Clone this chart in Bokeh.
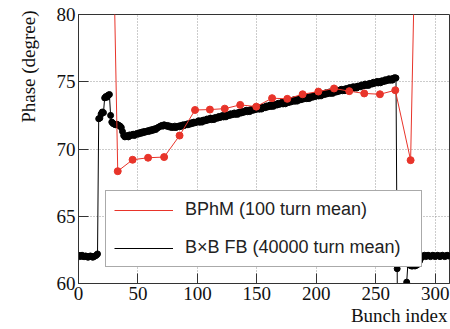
from bokeh.plotting import figure
from bokeh.models import (Range1d, FixedTicker, Legend, LegendItem, Title)
from bokeh.embed import file_html
from bokeh.resources import INLINE

# ---------------- data ----------------
# B x B FB (40000 turn mean): one value per bunch index 0..312
bbfb_lead = [62.10, 62.00, 62.05, 62.10, 62.00, 62.00, 62.05, 62.00, 61.95, 62.00,
             62.05, 62.00, 61.95, 62.00, 62.05, 62.10, 62.20]
bbfb_head = [72.25, 72.30, 72.60, 72.75, 72.70, 73.80, 73.90, 73.85, 74.00, 74.05,
             72.50, 72.00, 71.90, 71.85, 71.80, 71.85, 71.80, 71.75, 71.70, 71.60,
             71.30, 71.00, 70.90]
bbfb_early = [70.95, 71.00, 70.90, 71.05, 71.00, 71.05, 71.10, 71.00, 71.10, 71.15,
              71.10, 71.20, 71.15, 71.25, 71.20, 71.30, 71.25, 71.30, 71.35, 71.30,
              71.40, 71.35, 71.45, 71.40, 71.50, 71.45, 71.55, 71.60, 71.65, 71.70,
              71.75, 71.70, 71.80, 71.75, 71.70, 71.75, 71.65, 71.70, 71.60, 71.65,
              71.60, 71.70, 71.60, 71.65, 71.70, 71.65, 71.75, 71.70, 71.80, 71.75,
              71.80, 71.85, 71.80, 71.90, 71.85, 71.95, 71.90, 72.00, 71.95, 72.00]
bbfb_train = [72.00, 72.10, 71.99, 72.09, 72.00, 72.15, 72.12, 72.10, 72.23, 72.15,
              72.20, 72.30, 72.18, 72.28, 72.19, 72.34, 72.31, 72.29, 72.42, 72.34,
              72.39, 72.49, 72.38, 72.48, 72.39, 72.54, 72.51, 72.49, 72.62, 72.54,
              72.59, 72.68, 72.57, 72.67, 72.58, 72.73, 72.70, 72.68, 72.81, 72.73,
              72.78, 72.88, 72.77, 72.87, 72.78, 72.93, 72.90, 72.88, 73.01, 72.93,
              72.98, 73.08, 72.96, 73.06, 72.97, 73.12, 73.09, 73.07, 73.20, 73.12,
              73.17, 73.27, 73.16, 73.26, 73.17, 73.32, 73.29, 73.27, 73.40, 73.32,
              73.37, 73.47, 73.35, 73.45, 73.36, 73.51, 73.48, 73.46, 73.59, 73.51,
              73.56, 73.66, 73.55, 73.65, 73.56, 73.71, 73.68, 73.66, 73.79, 73.71,
              73.76, 73.85, 73.74, 73.84, 73.75, 73.90, 73.87, 73.85, 73.98, 73.90,
              73.95, 74.05, 73.94, 74.04, 73.95, 74.10, 74.07, 74.05, 74.18, 74.10,
              74.15, 74.24, 74.13, 74.23, 74.14, 74.29, 74.26, 74.24, 74.37, 74.29,
              74.34, 74.44, 74.33, 74.43, 74.34, 74.49, 74.46, 74.44, 74.57, 74.49,
              74.54, 74.63, 74.52, 74.62, 74.53, 74.68, 74.65, 74.63, 74.76, 74.68,
              74.73, 74.83, 74.72, 74.82, 74.73, 74.88, 74.85, 74.83, 74.96, 74.88,
              74.93, 75.02, 74.91, 75.01, 74.92, 75.07, 75.04, 75.02, 75.15, 75.07,
              75.12, 75.22, 75.11, 75.21, 75.12, 75.27, 75.30, 75.28]
bbfb_tail = [61.10, 45.00, 45.00, 45.00, 45.00, 45.00, 45.00, 45.00, 60.10,
             61.45, 61.40, 61.35, 61.30, 61.30, 61.35, 61.30, 61.35, 61.40, 61.50,
             61.70, 61.90, 62.00,
             62.05, 62.10, 62.00, 62.05, 62.10, 62.05, 62.00, 62.05, 62.10, 62.05,
             62.00, 62.05, 62.10, 62.05, 62.00, 62.05, 62.10, 62.05, 62.00, 62.05,
             62.10, 62.05, 62.05]
bbfb_phase = bbfb_lead + bbfb_head + bbfb_early + bbfb_train + bbfb_tail
bbfb_bunch = list(range(len(bbfb_phase)))

# BPhM (100 turn mean)
bphm_bunch = [20.0, 33.0, 45.5, 58.5, 72.0, 85.0, 98.0, 110.5, 123.0, 136.0, 149.5,
              162.8, 175.6, 188.5, 201.7, 214.9, 227.7, 240.3, 253.5, 266.4, 279.3, 292.5]
bphm_phase = [129.0, 68.35, 69.20, 69.35, 69.40, 71.00, 72.90, 72.93, 73.00, 73.28, 73.15,
              73.78, 73.73, 74.07, 74.27, 74.50, 74.30, 74.13, 74.07, 74.37, 69.17, 126.4]

x_ticks = [0, 50, 100, 150, 200, 250, 300]
y_ticks = [60, 65, 70, 75, 80]
x_lim = (0, 312)
y_lim = (60, 80)

# ---------------- figure ----------------
SERIF = "Liberation Serif"
SANS = "Liberation Sans"
RED = "#e8342a"

p = figure(width=450, height=329, output_backend="svg", toolbar_location=None,
           x_range=Range1d(*x_lim), y_range=Range1d(*y_lim),
           min_border_left=78, min_border_right=1, min_border_top=14, min_border_bottom=46)
p.background_fill_color = "white"
p.border_fill_color = "white"
p.outline_line_color = "#333333"
p.outline_line_width = 1

for ax, ticks in ((p.xaxis[0], x_ticks), (p.yaxis[0], y_ticks)):
    ax.ticker = FixedTicker(ticks=ticks)
    ax.major_label_text_font = SERIF
    ax.major_label_text_font_size = "19px"
    ax.major_label_text_color = "#111111"
    ax.major_tick_in = 10
    ax.major_tick_out = 0
    ax.major_tick_line_color = "#333333"
    ax.minor_tick_line_color = None
    ax.axis_line_color = "#333333"
p.xaxis.major_label_standoff = 3
p.yaxis.major_label_standoff = 3

p.grid.grid_line_color = "#999999"
p.grid.grid_line_dash = "1 2"
p.grid.grid_line_width = 1
p.xgrid.ticker = FixedTicker(ticks=x_ticks)
p.ygrid.ticker = FixedTicker(ticks=y_ticks)

bb_line = p.line(bbfb_bunch, bbfb_phase, line_color="black", line_width=1)
p.scatter(bbfb_bunch, bbfb_phase, marker="circle", size=6, fill_color="black",
          line_color="black")
bp_line = p.line(bphm_bunch, bphm_phase, line_color=RED, line_width=1)
p.scatter(bphm_bunch, bphm_phase, marker="circle", size=7, fill_color=RED,
          line_color=RED)

legend = Legend(items=[LegendItem(label="BPhM (100 turn mean)", renderers=[bp_line]),
                       LegendItem(label="B\u00d7B FB (40000 turn mean)", renderers=[bb_line])],
                location=(27, 16))
legend.label_text_font = SANS
legend.label_text_font_size = "18px"
legend.label_text_color = "#222222"
legend.glyph_width = 59
legend.glyph_height = 20
legend.label_height = 20
legend.label_width = 228
legend.label_standoff = 12
legend.spacing = 17
legend.padding = 8
legend.margin = 0
legend.border_line_color = "#555555"
legend.border_line_width = 1.2
legend.background_fill_color = "white"
legend.background_fill_alpha = 1.0
p.add_layout(legend, "center")

p.add_layout(Title(text="Phase (degree)", align="right", text_font=SERIF,
                   text_font_size="19px", text_font_style="normal",
                   text_color="#111111", standoff=30, offset=-4), "left")
p.add_layout(Title(text="Bunch index", align="right", text_font=SERIF,
                   text_font_size="19px", text_font_style="normal",
                   text_color="#111111", standoff=0, offset=2), "below")

open("out.html", "w").write(file_html(p, INLINE))
